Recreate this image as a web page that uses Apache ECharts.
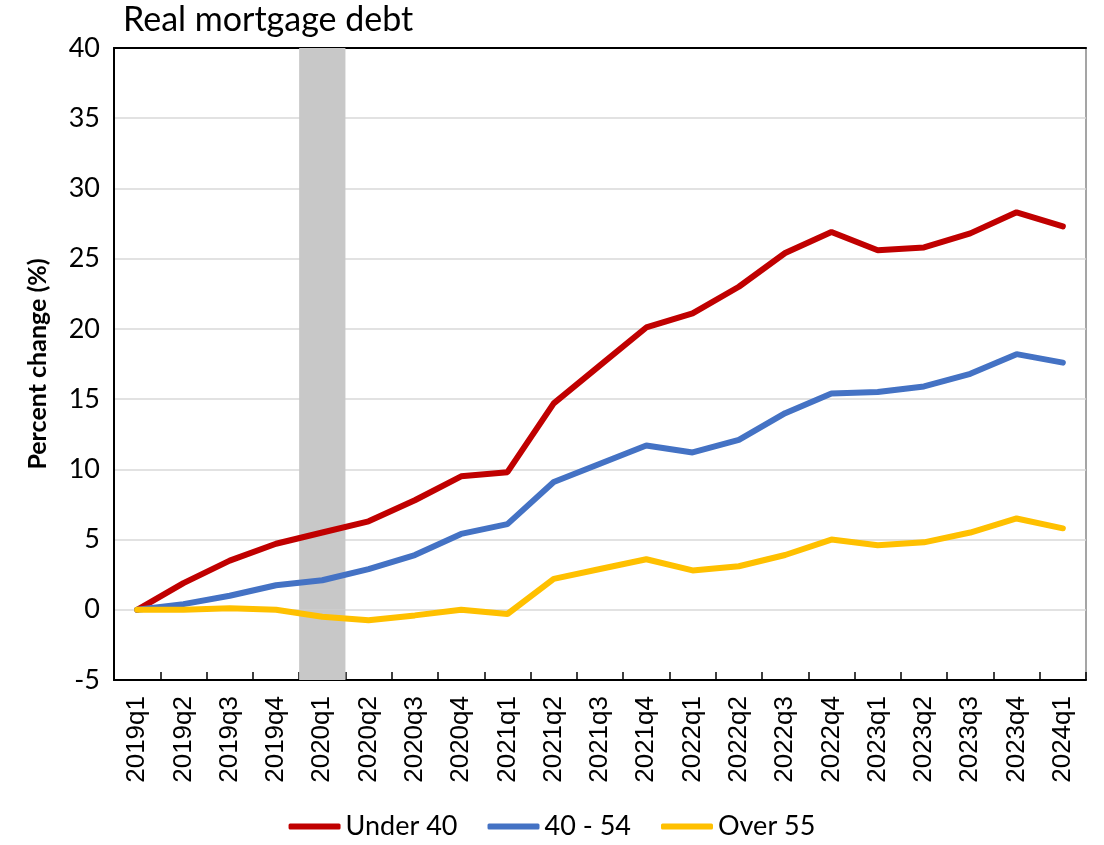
<!DOCTYPE html>
<html>
<head>
<meta charset="utf-8">
<script src="https://cdn.jsdelivr.net/npm/echarts@6/dist/echarts.min.js"></script>
<style>html,body{margin:0;padding:0;background:#fff}#c{width:1104px;height:845px}</style>
</head>
<body>
<div id="c"></div>
<script>
const categories = ['2019q1','2019q2','2019q3','2019q4','2020q1','2020q2','2020q3','2020q4','2021q1','2021q2','2021q3','2021q4','2022q1','2022q2','2022q3','2022q4','2023q1','2023q2','2023q3','2023q4','2024q1'];
const under40 = [0, 1.9, 3.5, 4.7, 5.5, 6.3, 7.8, 9.5, 9.8, 14.7, 17.4, 20.1, 21.1, 23.0, 25.4, 26.9, 25.6, 25.8, 26.8, 28.3, 27.3];
const age40to54 = [0, 0.4, 1.0, 1.75, 2.1, 2.9, 3.9, 5.4, 6.1, 9.1, 10.4, 11.7, 11.2, 12.1, 14.0, 15.4, 15.5, 15.9, 16.8, 18.2, 17.6];
const over55 = [0, 0, 0.1, 0.0, -0.5, -0.75, -0.4, 0.0, -0.3, 2.2, 2.9, 3.6, 2.8, 3.1, 3.9, 5.0, 4.6, 4.8, 5.5, 6.5, 5.8];
const shadedPeriod = '2020q1';
const shadeTop = 40, shadeBottom = -5;
const yTicks = {min: -5, max: 40, interval: 5};

const shadeUp = categories.map(c => c === shadedPeriod ? shadeTop : null);
const shadeDown = categories.map(c => c === shadedPeriod ? shadeBottom : null);

const chart = echarts.init(document.getElementById('c'));
const font = 'Lato, "Open Sans", sans-serif';
chart.setOption({
  animation: false,
  title: {
    text: 'Real mortgage debt', left: 118, top: -2,
    textStyle: {fontFamily: font, fontSize: 34, fontWeight: 'normal', color: '#000'}
  },
  grid: {left: 114, right: 18, top: 48, bottom: 165, show: true, borderColor: '#888', borderWidth: 1.5},
  legend: {
    data: ['Under 40', '40 - 54', 'Over 55'],
    bottom: 0, left: 'center',
    icon: 'roundRect', itemWidth: 52, itemHeight: 6, itemGap: 30,
    textStyle: {fontFamily: font, fontSize: 27, color: '#000'}
  },
  xAxis: [{
    type: 'category', data: categories, boundaryGap: true,
    axisLine: {onZero: false, lineStyle: {color: '#000', width: 2}},
    axisTick: {show: true, inside: true, length: 8, interval: 0, lineStyle: {color: '#000', width: 1.5}},
    axisLabel: {rotate: 90, interval: 0, margin: 16, fontFamily: '"Liberation Sans", Arial, sans-serif', fontSize: 26, color: '#000'},
    splitLine: {show: false}
  }, {
    type: 'category', data: categories, position: 'top',
    axisLine: {onZero: false, lineStyle: {color: '#000', width: 2}},
    axisTick: {show: false}, axisLabel: {show: false}, splitLine: {show: false}
  }],
  yAxis: {
    type: 'value', min: yTicks.min, max: yTicks.max, interval: yTicks.interval,
    name: 'Percent change (%)', nameLocation: 'middle', nameGap: 64,
    nameTextStyle: {fontFamily: font, fontSize: 25, fontWeight: 'bold', color: '#000'},
    axisLine: {show: true, onZero: false, lineStyle: {color: '#000', width: 2}},
    axisTick: {show: false},
    axisLabel: {fontFamily: font, fontSize: 27, color: '#000', margin: 14},
    splitLine: {lineStyle: {color: '#d9d9d9', width: 1.5}}
  },
  series: [
    {type: 'bar', name: 'shade', stack: 'shade', data: shadeUp, barWidth: '100%', itemStyle: {color: '#c8c8c8'}, silent: true},
    {type: 'bar', name: 'shade', stack: 'shade', data: shadeDown, barWidth: '100%', itemStyle: {color: '#c8c8c8'}, silent: true},
    {type: 'line', name: 'Under 40', data: under40, showSymbol: false, symbol: 'none', lineStyle: {color: '#c00000', width: 6, cap: 'round'}, itemStyle: {color: '#c00000'}},
    {type: 'line', name: '40 - 54', data: age40to54, showSymbol: false, symbol: 'none', lineStyle: {color: '#4472c4', width: 6, cap: 'round'}, itemStyle: {color: '#4472c4'}},
    {type: 'line', name: 'Over 55', data: over55, showSymbol: false, symbol: 'none', lineStyle: {color: '#ffc000', width: 6, cap: 'round'}, itemStyle: {color: '#ffc000'}}
  ]
});
</script>
</body>
</html>
